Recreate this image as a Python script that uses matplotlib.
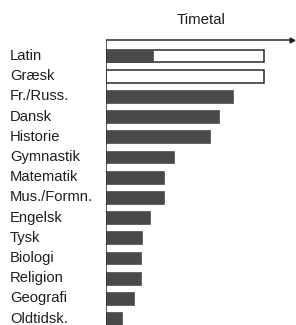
import matplotlib
matplotlib.use("Agg")
import matplotlib.pyplot as plt
from matplotlib.transforms import blended_transform_factory

subjects = ["Latin", "Græsk", "Fr./Russ.", "Dansk", "Historie", "Gymnastik",
            "Matematik", "Mus./Formn.", "Engelsk", "Tysk", "Biologi",
            "Religion", "Geografi", "Oldtidsk."]
filled_hours = [10.4, 0, 28.2, 25.0, 23.0, 15.1, 12.9, 12.9, 9.8, 8.0, 7.8, 7.8, 6.2, 3.5]
outline_hours = [35, 35, 0, 0, 0, 0, 0, 0, 0, 0, 0, 0, 0, 0]
title = "Timetal"

plt.rcParams['font.family'] = ['Liberation Sans', 'DejaVu Sans']

W, H = 296, 325
fig = plt.figure(figsize=(W / 100, H / 100), dpi=100)
x0 = 106 / W
ax = fig.add_axes([x0, 0, 1 - x0, 1])
px_per_unit = 4.51
ax.set_xlim(0, (W - 106) / px_per_unit)
row = 20.2
ax.set_ylim((H - 56) / row, -56 / row)
ax.axis('off')

dark = '#4a4a4a'
ypos = list(range(len(subjects)))
bh = 0.64
for y, o in zip(ypos, outline_hours):
    if o > 0:
        ax.barh(y, o, height=bh, left=0, color='white', edgecolor='#2a2a2a', linewidth=1.1, zorder=2)
for y, f in zip(ypos, filled_hours):
    if f > 0:
        ax.barh(y, f, height=bh, left=0, color=dark, edgecolor=dark, linewidth=0.5, zorder=3)

top_y = (39.5 - 56) / row
ax.plot([0, 0], [top_y, (H - 56) / row], color='#2a2a2a', lw=1.1, zorder=4, solid_capstyle='butt')
xend = (292 - 106) / px_per_unit
ax.plot([0, xend], [top_y, top_y], color='#2a2a2a', lw=1.1, zorder=4)
ax.plot([xend], [top_y], marker='>', color='#222222', markersize=3.5, zorder=5)

trans = blended_transform_factory(fig.transFigure, ax.transData)
for y, s in zip(ypos, subjects):
    fig.text(10 / W, y, s, transform=trans, ha='left', va='center', fontsize=10.6, color='#1e1e1e')

fig.text(201 / W, 1 - 20.5 / H, title, ha='center', va='center', fontsize=10.8, color='#1e1e1e')

fig.savefig("out.png", dpi=100, facecolor='white')
